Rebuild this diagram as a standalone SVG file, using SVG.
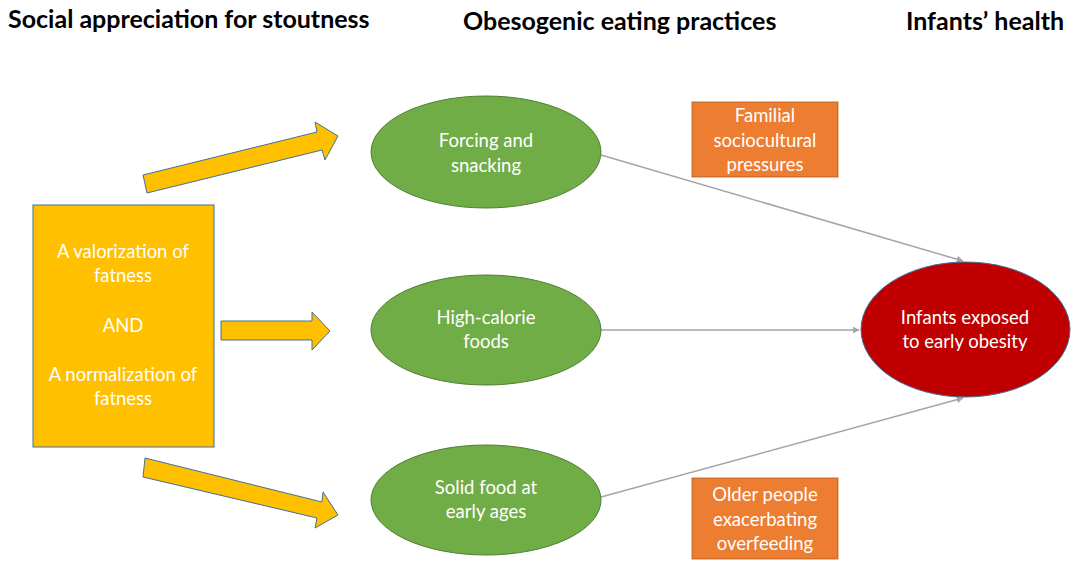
<svg xmlns="http://www.w3.org/2000/svg" width="1076" height="561" viewBox="0 0 1076 561">
<style>
.h{font-family:Lato,"Liberation Sans",sans-serif;font-weight:bold;font-size:25px;fill:#000}
.t{font-family:Lato,"Liberation Sans",sans-serif;font-size:18.5px;fill:#fff;text-anchor:middle}
.ya{fill:#FFC000;stroke:#41719C;stroke-width:1}
.gr{fill:#70AD47;stroke:#507E32;stroke-width:1}
.or{fill:#ED7D31;stroke:#AE5A21;stroke-width:0.8}
.cn{stroke:#A5A5A5;stroke-width:1.5;fill:none;marker-end:url(#ah)}
</style>
<defs>
<marker id="ah" viewBox="0 0 10 10" refX="9" refY="5" markerWidth="7" markerHeight="7" orient="auto" markerUnits="userSpaceOnUse">
<path d="M0,0 L10,5 L0,10 z" fill="#A5A5A5"/>
</marker>
</defs>
<rect width="1076" height="561" fill="#fff"/>
<g id="headings">
<text class="h" x="8" y="28">Social appreciation for stoutness</text>
<text class="h" x="463" y="30">Obesogenic eating practices</text>
<text class="h" x="906" y="30">Infants’ health</text>
</g>
<g id="social">
<rect class="ya" x="33" y="205" width="181" height="242"/>
<text class="t" x="123" y="258">A valorization of</text>
<text class="t" x="123" y="282">fatness</text>
<text class="t" x="123" y="332">AND</text>
<text class="t" x="123" y="381">A normalization of</text>
<text class="t" x="123" y="405">fatness</text>
</g>
<g id="block-arrows">
<polygon class="ya" points="143,175 317,132 315,122 338,136 325,160 322,150 147,193"/>
<polygon class="ya" points="221,321 312,321 312,312 330,331 312,350 312,340 221,340"/>
<polygon class="ya" points="145,458 322,502 323,492 338,515 315,528 317,518 143,477"/>
</g>
<g id="connectors">
<line class="cn" x1="601" y1="155" x2="963" y2="261"/>
<line class="cn" x1="601" y1="330" x2="859" y2="330"/>
<line class="cn" x1="601" y1="497" x2="963" y2="398"/>
</g>
<g id="forcing">
<ellipse class="gr" cx="486" cy="152" rx="115" ry="56"/>
<text class="t" x="486" y="147">Forcing and</text>
<text class="t" x="486" y="172">snacking</text>
</g>
<g id="highcal">
<ellipse class="gr" cx="486" cy="330" rx="115" ry="55"/>
<text class="t" x="486" y="324">High-calorie</text>
<text class="t" x="486" y="348">foods</text>
</g>
<g id="solid">
<ellipse class="gr" cx="486" cy="500" rx="115" ry="55"/>
<text class="t" x="486" y="494">Solid food at</text>
<text class="t" x="486" y="518">early ages</text>
</g>
<g id="infants">
<ellipse cx="965.5" cy="329.5" rx="104.5" ry="67.5" fill="#C00000" stroke="#41719C" stroke-width="1"/>
<text class="t" x="965" y="324">Infants exposed</text>
<text class="t" x="965" y="348">to early obesity</text>
</g>
<g id="familial">
<rect class="or" x="692" y="102" width="146" height="75"/>
<text class="t" x="765" y="122">Familial</text>
<text class="t" x="765" y="147">sociocultural</text>
<text class="t" x="765" y="171">pressures</text>
</g>
<g id="older">
<rect class="or" x="692" y="478" width="146" height="81"/>
<text class="t" x="765" y="501">Older people</text>
<text class="t" x="765" y="526">exacerbating</text>
<text class="t" x="765" y="550">overfeeding</text>
</g>
</svg>
